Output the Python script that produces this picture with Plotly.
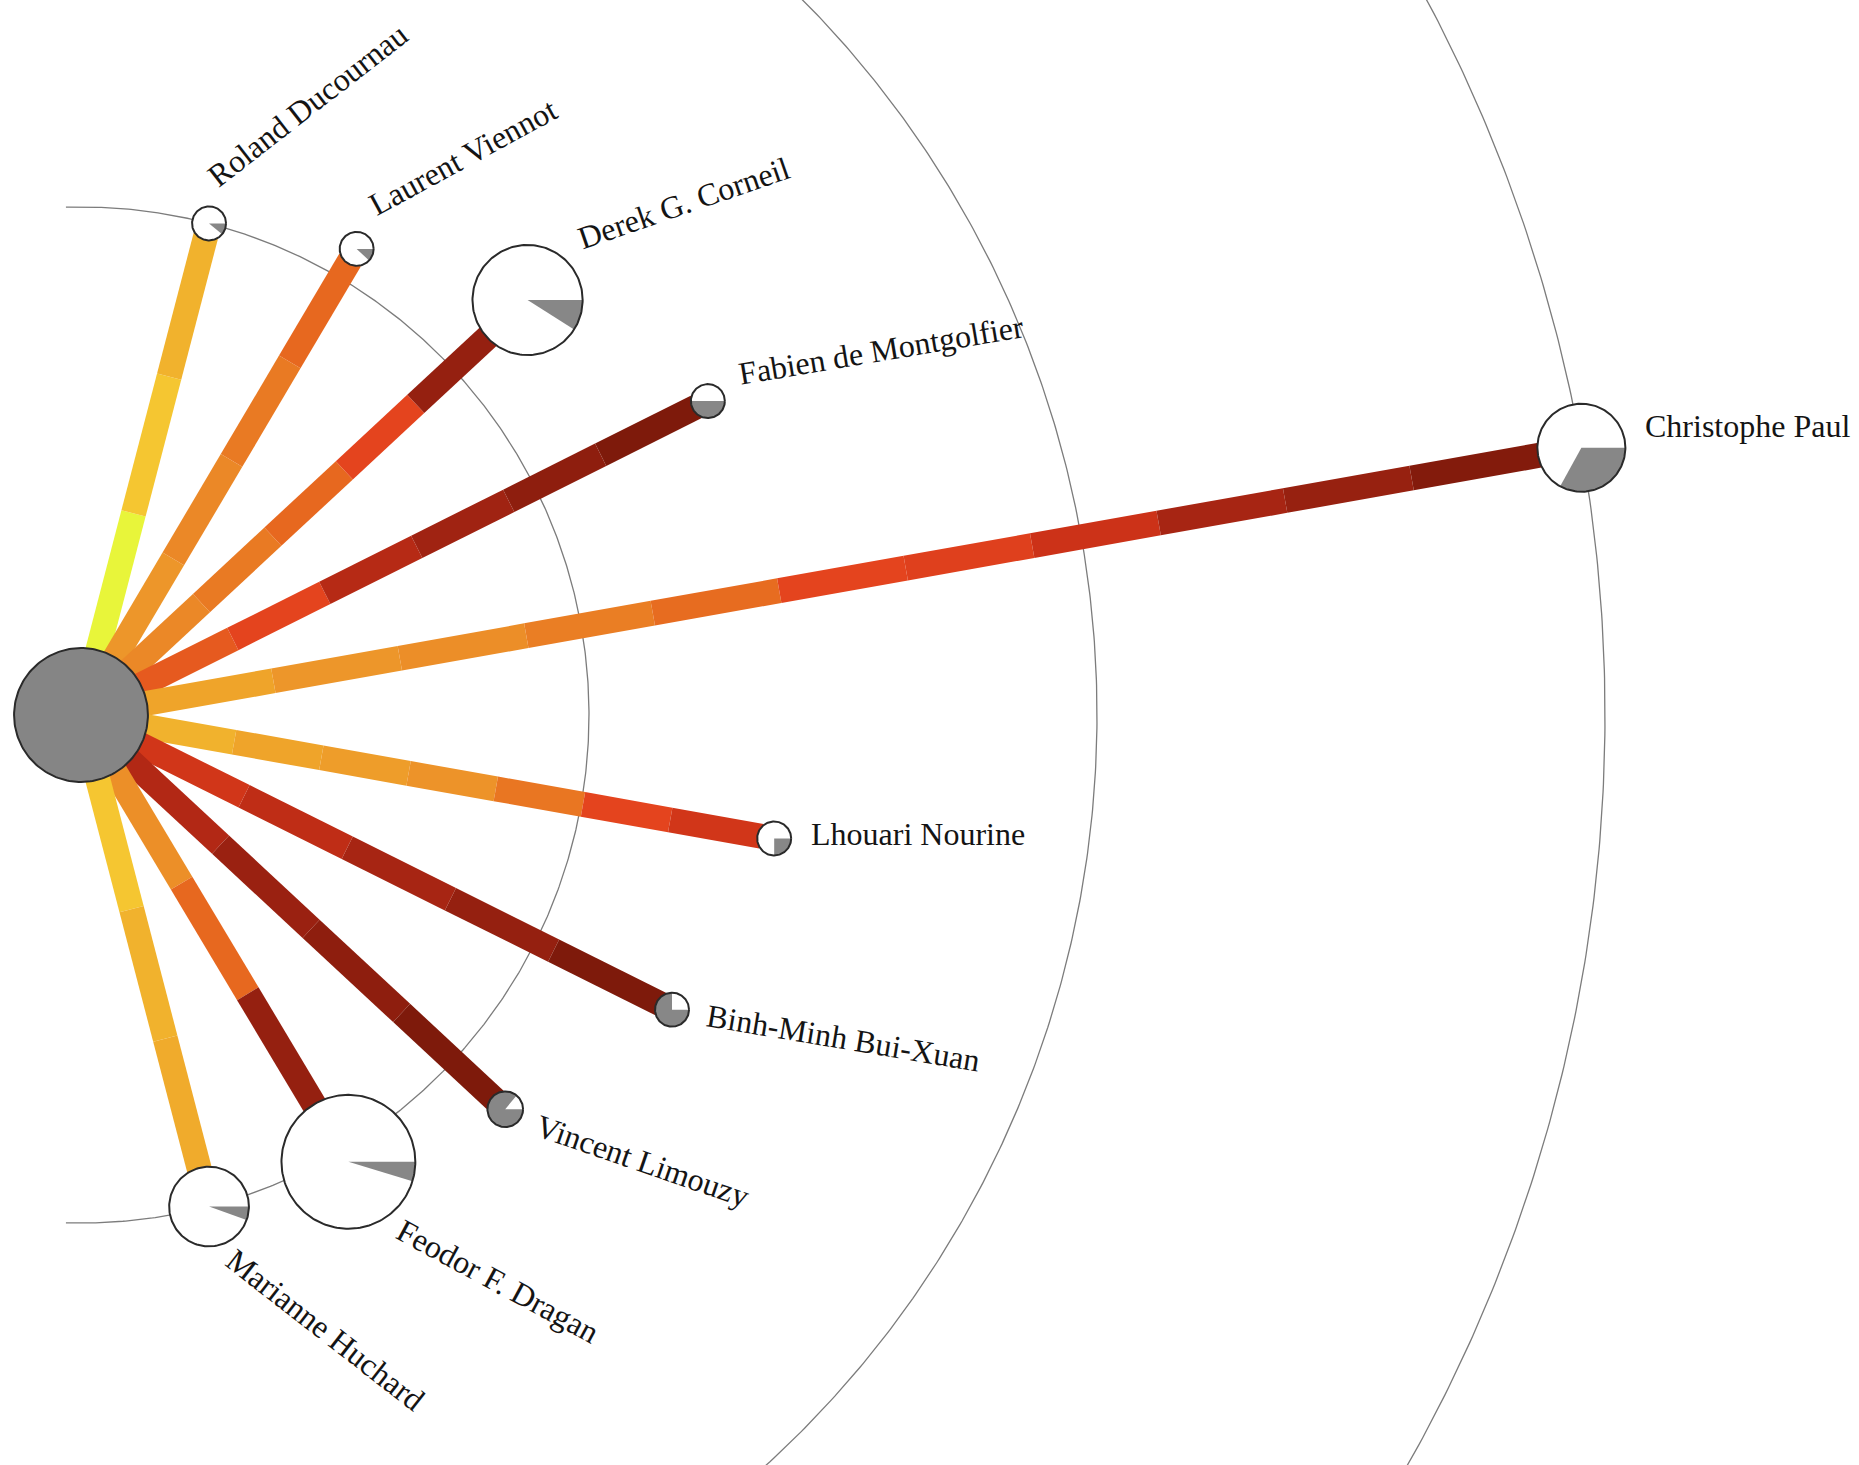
import math
import numpy as np
import plotly.graph_objects as go
from plotly.colors import sample_colorscale

# ---------------- data ----------------
authors = ["Roland Ducournau", "Laurent Viennot", "Derek G. Corneil", "Fabien de Montgolfier",
           "Christophe Paul", "Lhouari Nourine", "Binh-Minh Bui-Xuan", "Vincent Limouzy",
           "Feodor F. Dragan", "Marianne Huchard"]
angle_deg = [75.4, 59.4, 42.9, 26.6, 10.1, -10.1, -26.5, -42.9, -59.1, -75.4]
distance = [1.00, 1.066, 1.20, 1.38, 3.00, 1.386, 1.30, 1.14, 1.025, 1.00]
weight = [1.0, 1.0, 10.5, 1.0, 6.7, 1.0, 1.0, 1.1, 15.5, 5.5]
share = [0.11, 0.12, 0.09, 0.5, 0.33, 0.25, 0.75, 0.86, 0.047, 0.055]
seg_values = [
    [0, 1, 2],
    [4, 5, 6, 7],
    [5, 6, 7, 8, 11],
    [7.4, 8, 9.7, 10.5, 11.3, 12],
    [3, 4, 4.6, 5.7, 6.8, 8, 8.2, 9, 10.2, 10.9, 11.8],
    [2, 3, 3.5, 4.2, 6.2, 8, 8.8],
    [8.8, 9.4, 10.2, 11, 12],
    [9.8, 10.8, 11.3, 12],
    [4.5, 7, 11],
    [1, 2, 2.5],
]
center_weight = 15.5
center_share = 1.0
arc_levels = [1, 2, 3]
value_colors = ["#e8f53a", "#f5c631", "#f1b22d", "#efa42a", "#ed962a", "#eb8827",
                "#e97a23", "#e7681f", "#e4441e", "#cc3218", "#ac2614", "#952010", "#7e1a0b"]
VMAX = 12

# ---------------- layout constants ----------------
W, H = 1859, 1465
PX = 508.0          # pixels per distance unit
CX, CY = 81, 715    # pixel position of the centre node
R0 = 17.0           # node radius (px) for weight 1
RAY_W = 25.0        # ray thickness (px)
GAP = 20.0          # gap node -> label (px)
FS = 32             # label font size
ARC_PAD = 16.3      # arcs extend beyond outermost spokes (deg)
TILT = 0.58         # label rotation factor
FONT = "Liberation Serif, Times New Roman, serif"

# Times / Liberation Serif advance widths (per 1000 em)
TW = {' ': 250, '-': 333, '.': 250, 'A': 722, 'B': 667, 'C': 667, 'D': 722, 'E': 611, 'F': 556,
      'G': 722, 'H': 722, 'I': 333, 'J': 389, 'K': 722, 'L': 611, 'M': 889, 'N': 722, 'O': 722,
      'P': 556, 'Q': 722, 'R': 667, 'S': 556, 'T': 611, 'U': 722, 'V': 722, 'W': 944, 'X': 722,
      'Y': 722, 'Z': 611, 'a': 444, 'b': 500, 'c': 444, 'd': 500, 'e': 444, 'f': 333, 'g': 500,
      'h': 500, 'i': 278, 'j': 278, 'k': 500, 'l': 278, 'm': 778, 'n': 500, 'o': 500, 'p': 500,
      'q': 500, 'r': 333, 's': 389, 't': 278, 'u': 500, 'v': 500, 'w': 722, 'x': 500, 'y': 500,
      'z': 444}


def text_w(s):
    return sum(TW.get(c, 500) for c in s) / 1000.0 * FS


def u(px):
    return px / PX


colorscale = [[i / (len(value_colors) - 1), c] for i, c in enumerate(value_colors)]

fig = go.Figure()

# ---- concentric arcs ----
a_lo = math.radians(min(angle_deg) - ARC_PAD)
a_hi = math.radians(max(angle_deg) + ARC_PAD)
t = np.linspace(a_lo, a_hi, 600)
for lv in arc_levels:
    fig.add_trace(go.Scatter(x=lv * np.cos(t), y=lv * np.sin(t), mode="lines",
                             line=dict(color="#7c7c7c", width=1.3), hoverinfo="skip"))

rc = u(R0 * math.sqrt(center_weight))
hw = u(RAY_W) / 2
min_abs = min(abs(a) for a in angle_deg)
circ = np.linspace(0, 2 * np.pi, 181)

# ---- rays ----
for a, d, w, vals in zip(angle_deg, distance, weight, seg_values):
    th = math.radians(a)
    dx, dy = math.cos(th), math.sin(th)
    nx, ny = -dy, dx
    rn = u(R0 * math.sqrt(w))
    edges = np.linspace(rc, d - rn, len(vals) + 1)
    cols = sample_colorscale(colorscale, [v / VMAX for v in vals])
    for k in range(len(vals)):
        ra = edges[k] if k > 0 else rc - u(10)
        rb = edges[k + 1] if k < len(vals) - 1 else edges[k + 1] + u(4)
        xs = [ra * dx + hw * nx, rb * dx + hw * nx, rb * dx - hw * nx, ra * dx - hw * nx, ra * dx + hw * nx]
        ys = [ra * dy + hw * ny, rb * dy + hw * ny, rb * dy - hw * ny, ra * dy - hw * ny, ra * dy + hw * ny]
        fig.add_trace(go.Scatter(x=xs, y=ys, mode="lines", fill="toself", fillcolor=cols[k],
                                 line=dict(width=0, color=cols[k]), hoverinfo="skip"))


def add_node(cx, cy, r, s, base="white"):
    fig.add_trace(go.Scatter(x=cx + r * np.cos(circ), y=cy + r * np.sin(circ), mode="lines",
                             fill="toself", fillcolor=base, line=dict(width=0), hoverinfo="skip"))
    if 0 < s < 1:
        tw = np.linspace(0, -2 * np.pi * s, max(4, int(180 * s) + 2))
        fig.add_trace(go.Scatter(x=np.concatenate([[cx], cx + r * np.cos(tw), [cx]]),
                                 y=np.concatenate([[cy], cy + r * np.sin(tw), [cy]]),
                                 mode="lines", fill="toself", fillcolor="#878787",
                                 line=dict(width=0), hoverinfo="skip"))
    elif s >= 1:
        fig.add_trace(go.Scatter(x=cx + r * np.cos(circ), y=cy + r * np.sin(circ), mode="lines",
                                 fill="toself", fillcolor="#858585", line=dict(width=0),
                                 hoverinfo="skip"))
    fig.add_trace(go.Scatter(x=cx + r * np.cos(circ), y=cy + r * np.sin(circ), mode="lines",
                             line=dict(color="#2a2a2a", width=2), hoverinfo="skip"))


# ---- co-author nodes and labels ----
for name, a, d, w, s in zip(authors, angle_deg, distance, weight, share):
    th = math.radians(a)
    dx, dy = math.cos(th), math.sin(th)
    rn_px = R0 * math.sqrt(w)
    cx, cy = d * dx, d * dy
    add_node(cx, cy, u(rn_px), s)

    rot = math.radians(math.copysign(TILT * (abs(a) - min_abs), a))
    ux, uy = math.cos(rot), math.sin(rot)
    vx, vy = -math.sin(rot), math.cos(rot)
    bx = cx + u(rn_px + GAP) * dx
    by = cy + u(rn_px + GAP) * dy
    half = text_w(name) / 2
    tx = bx + u(half) * ux + u(0.3375 * FS) * vx
    ty = by + u(half) * uy + u(0.3375 * FS) * vy
    fig.add_annotation(x=tx, y=ty, text=name, showarrow=False, textangle=-math.degrees(rot),
                       xanchor="center", yanchor="middle",
                       font=dict(family=FONT, size=FS, color="#141414"))

# ---- centre node ----
add_node(0.0, 0.0, rc, center_share)

fig.update_layout(
    width=W, height=H, margin=dict(l=0, r=0, t=0, b=0), showlegend=False,
    paper_bgcolor="white", plot_bgcolor="white",
    xaxis=dict(range=[-CX / PX, (W - CX) / PX], visible=False, fixedrange=True),
    yaxis=dict(range=[-(H - CY) / PX, CY / PX], visible=False, fixedrange=True),
    hovermode=False,
)

fig.write_html("out.html", config={"displayModeBar": False},
               post_script="document.body.style.margin='0';document.body.style.overflow='hidden';")
